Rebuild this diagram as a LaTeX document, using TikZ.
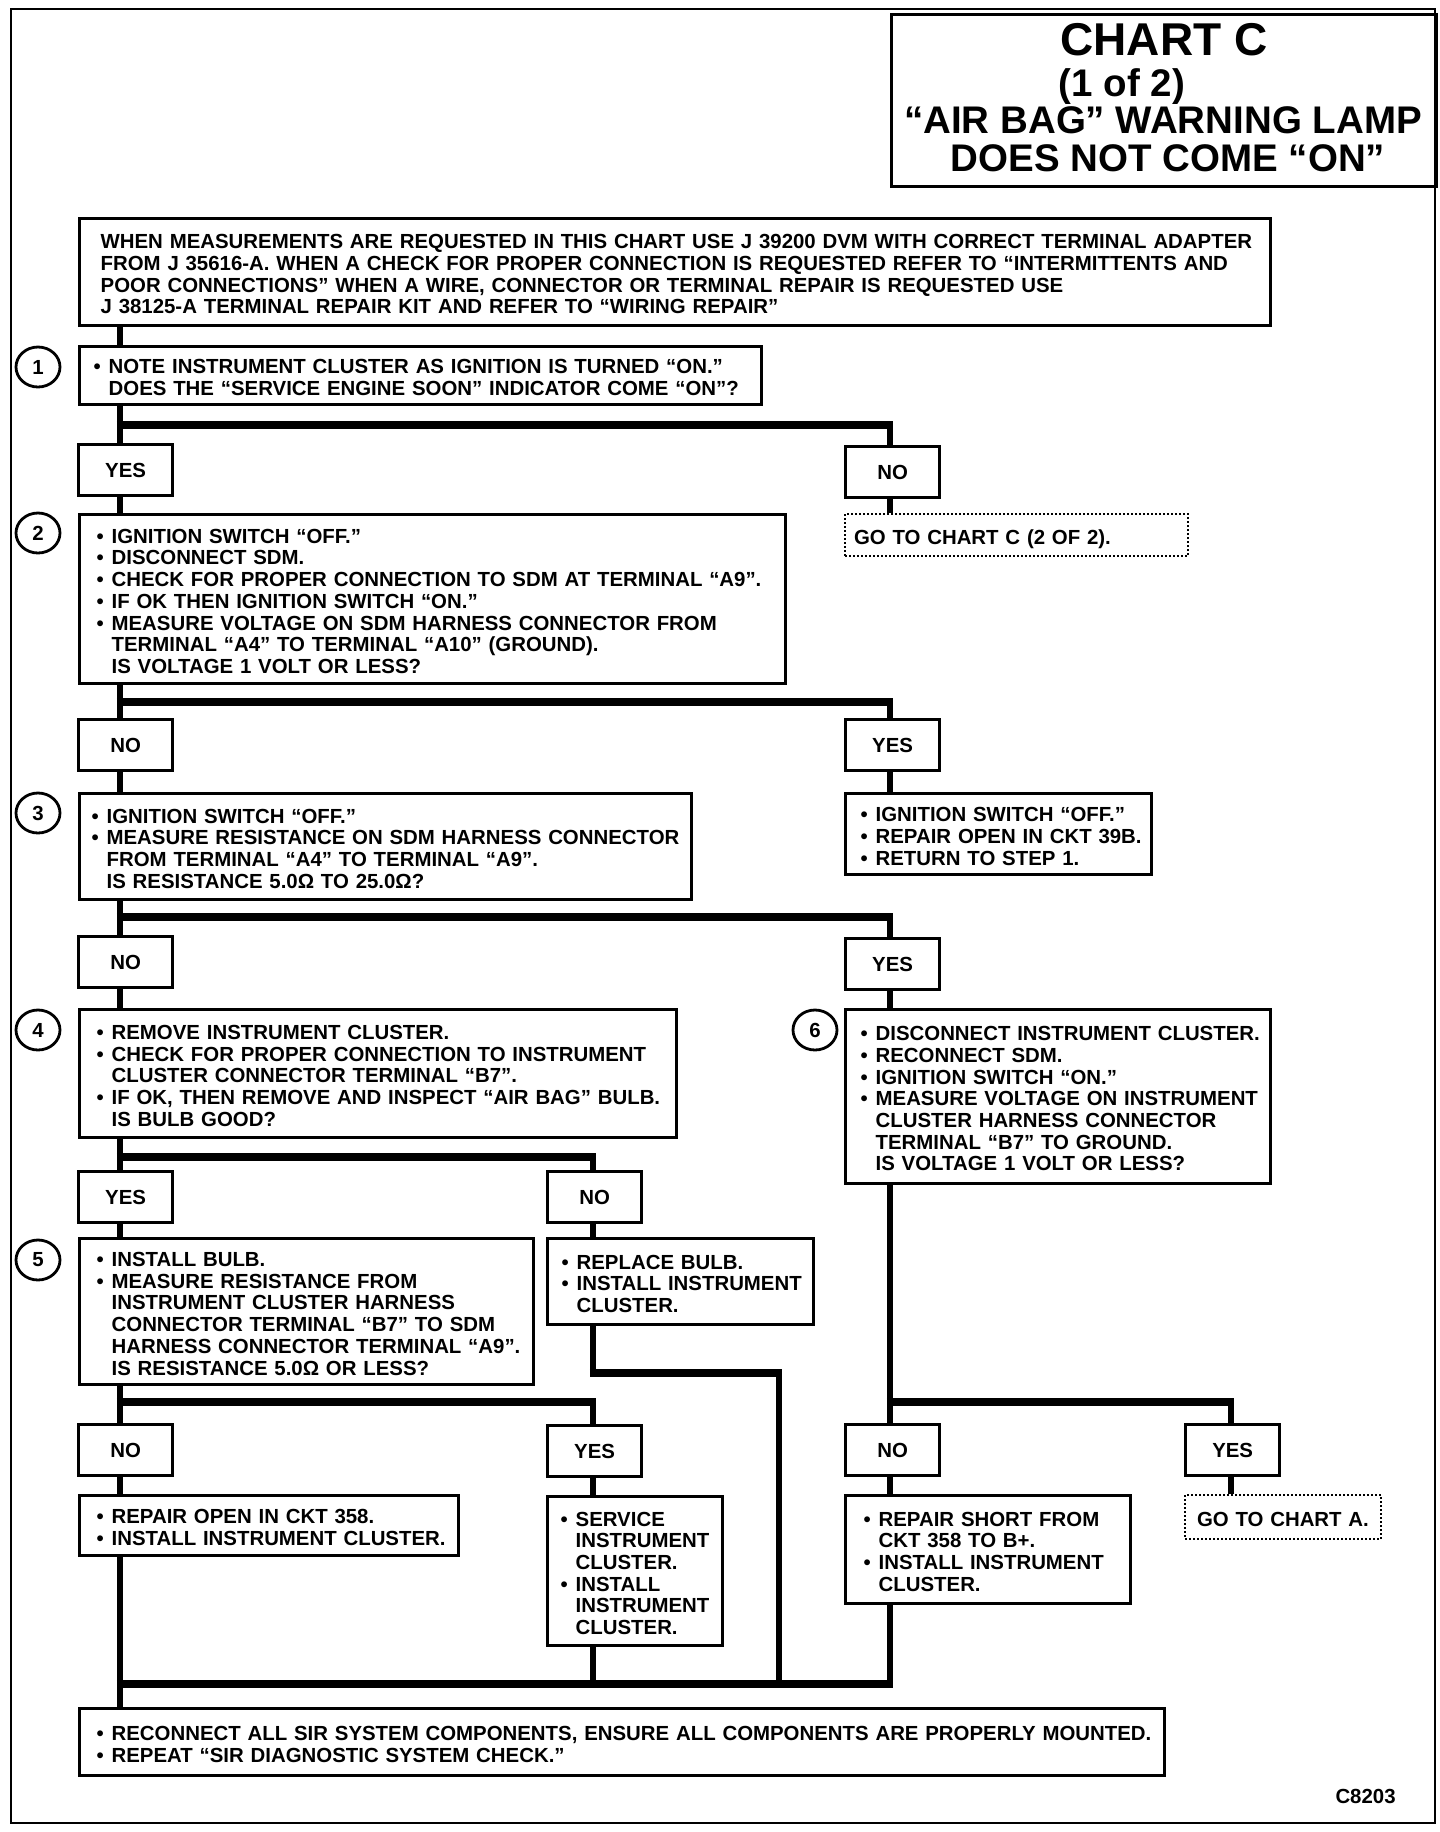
\documentclass[tikz,border=0pt]{standalone}
\usepackage{fontspec}
\setmainfont{Liberation Sans}
\usetikzlibrary{shapes.geometric}
\newlength\bw \setlength\bw{7.5pt}
\newcommand\bi{\makebox[\bw][l]{•}}
\newcommand\ci{\hspace*{\bw}}
\newcommand\bodyfont{\fontsize{10.2}{10.85}\selectfont\bfseries}
\newcommand\blk[1]{\raisebox{-2.4pt}[\height][\depth]{\begin{tabular}{@{}l@{}}#1\end{tabular}}}
\begin{document}
\begin{tikzpicture}[x=0.5pt,y=-0.5pt,
  box/.style={draw, line width=1.65pt, rectangle, anchor=north west, inner ysep=0pt, align=left, font=\bodyfont},
  ans/.style={draw, line width=1.65pt, rectangle, anchor=north west, minimum width=47pt, minimum height=25.5pt, inner sep=0pt, font=\bodyfont},
  goto/.style={draw, densely dotted, line width=1pt, rectangle, anchor=north west, inner ysep=0pt, align=left, font=\bodyfont},
  num/.style={draw, ellipse, line width=1.4pt, minimum width=22pt, minimum height=20pt, inner sep=0pt, font=\bodyfont},
  vline/.style={line width=3.2pt},
  branch/.style={line width=3.8pt, shorten <=-1.6pt, shorten >=-1.6pt},
  title/.style={font=\fontsize{19.25}{22}\selectfont\bfseries, anchor=base, inner sep=0pt}
]
\useasboundingbox (0,0) rectangle (1440,1832);
\draw[line width=1.4pt] (11,9) rectangle (1435,1823);

% title
\node[draw, line width=1.65pt, anchor=north west, minimum width=272.5pt, minimum height=86pt, inner sep=0pt] (tbox) at (890,13) {};
\node[title, font=\fontsize{23}{26}\selectfont\bfseries] (t1) at (1164,55) {CHART C};
\node[title] (t2) at (1122,96) {(1 of 2)};
\node[title] (t3) at (1163,133) {“AIR BAG” WARNING LAMP};
\node[title] (t4) at (1168,171) {DOES NOT COME “ON”};

% columns and branch levels
\coordinate (cL) at (120,0);
\coordinate (cM) at (593,0);
\coordinate (cMR) at (779,0);
\coordinate (cR) at (890,0);
\coordinate (cRR) at (1231,0);
\coordinate (b1) at (0,425);
\coordinate (b2) at (0,702);
\coordinate (b3) at (0,917);
\coordinate (b4) at (0,1157);
\coordinate (b5) at (0,1402);
\coordinate (hR) at (0,1373);
\coordinate (b7) at (0,1684);

% boxes
\node[box, minimum width=595.5pt, minimum height=53.5pt, inner xsep=10.5pt, text width=574.5pt] (header) at (78,217)
{\blk{WHEN MEASUREMENTS ARE REQUESTED IN THIS CHART USE J 39200 DVM WITH CORRECT TERMINAL ADAPTER\\
FROM J 35616-A. WHEN A CHECK FOR PROPER CONNECTION IS REQUESTED REFER TO “INTERMITTENTS AND\\
POOR CONNECTIONS” WHEN A WIRE, CONNECTOR OR TERMINAL REPAIR IS REQUESTED USE\\
J 38125-A TERMINAL REPAIR KIT AND REFER TO “WIRING REPAIR”}};

\node[box, minimum width=341pt, minimum height=29pt, inner xsep=7pt, text width=327pt] (step1) at (78,345)
{\blk{\bi NOTE INSTRUMENT CLUSTER AS IGNITION IS TURNED “ON.”\\
\ci DOES THE “SERVICE ENGINE SOON” INDICATOR COME “ON”?}};

\node[ans] (yes1) at (77,443) {YES};
\node[ans] (no1) at (844,445) {NO};

\node[box, minimum width=353pt, minimum height=84.5pt, inner xsep=8.5pt, text width=336pt] (step2) at (78,513)
{\blk{\bi IGNITION SWITCH “OFF.”\\
\bi DISCONNECT SDM.\\
\bi CHECK FOR PROPER CONNECTION TO SDM AT TERMINAL “A9”.\\
\bi IF OK THEN IGNITION SWITCH “ON.”\\
\bi MEASURE VOLTAGE ON SDM HARNESS CONNECTOR FROM\\
\ci TERMINAL “A4” TO TERMINAL “A10” (GROUND).\\
\ci IS VOLTAGE 1 VOLT OR LESS?}};

\node[goto, minimum width=171.5pt, minimum height=21pt, inner xsep=4.5pt, text width=162.5pt] (goC2) at (844,513)
{\blk{GO TO CHART C (2 OF 2).}};

\node[ans] (no2) at (77,718) {NO};
\node[ans] (yes2) at (844,718) {YES};

\node[box, minimum width=306pt, minimum height=53pt, inner xsep=6pt, text width=294pt] (step3) at (78,792)
{\blk{\bi IGNITION SWITCH “OFF.”\\
\bi MEASURE RESISTANCE ON SDM HARNESS CONNECTOR\\
\ci FROM TERMINAL “A4” TO TERMINAL “A9”.\\
\ci IS RESISTANCE 5.0Ω TO 25.0Ω?}};

\node[box, minimum width=153pt, minimum height=40.5pt, inner xsep=7.5pt, text width=138pt] (rep39) at (844,792)
{\blk{\bi IGNITION SWITCH “OFF.”\\
\bi REPAIR OPEN IN CKT 39B.\\
\bi RETURN TO STEP 1.}};

\node[ans] (no3) at (77,935) {NO};
\node[ans] (yes3) at (844,937) {YES};

\node[box, minimum width=298.5pt, minimum height=64pt, inner xsep=8.5pt, text width=281.5pt] (step4) at (78,1008)
{\blk{\bi REMOVE INSTRUMENT CLUSTER.\\
\bi CHECK FOR PROPER CONNECTION TO INSTRUMENT\\
\ci CLUSTER CONNECTOR TERMINAL “B7”.\\
\bi IF OK, THEN REMOVE AND INSPECT “AIR BAG” BULB.\\
\ci IS BULB GOOD?}};

\node[box, minimum width=212.5pt, minimum height=87pt, inner xsep=7.5pt, text width=197.5pt] (step6) at (844,1008)
{\blk{\bi DISCONNECT INSTRUMENT CLUSTER.\\
\bi RECONNECT SDM.\\
\bi IGNITION SWITCH “ON.”\\
\bi MEASURE VOLTAGE ON INSTRUMENT\\
\ci CLUSTER HARNESS CONNECTOR\\
\ci TERMINAL “B7” TO GROUND.\\
\ci IS VOLTAGE 1 VOLT OR LESS?}};

\node[ans] (yes4) at (77,1170) {YES};
\node[ans] (no4) at (546,1170) {NO};

\node[box, minimum width=227pt, minimum height=73pt, inner xsep=8.5pt, text width=210pt] (step5) at (78,1237)
{\blk{\bi INSTALL BULB.\\
\bi MEASURE RESISTANCE FROM\\
\ci INSTRUMENT CLUSTER HARNESS\\
\ci CONNECTOR TERMINAL “B7” TO SDM\\
\ci HARNESS CONNECTOR TERMINAL “A9”.\\
\ci IS RESISTANCE 5.0Ω OR LESS?}};

\node[box, minimum width=133pt, minimum height=43pt, inner xsep=7pt, text width=119pt] (replace) at (546,1237)
{\blk{\bi REPLACE BULB.\\
\bi INSTALL INSTRUMENT\\
\ci CLUSTER.}};

\node[ans] (no5) at (77,1423) {NO};
\node[ans] (yes5) at (546,1424) {YES};
\node[ans] (no6) at (844,1423) {NO};
\node[ans] (yes6) at (1184,1423) {YES};

\node[box, minimum width=189.5pt, minimum height=30pt, inner xsep=8.5pt, text width=172.5pt] (open358) at (78,1494)
{\blk{\bi REPAIR OPEN IN CKT 358.\\
\bi INSTALL INSTRUMENT CLUSTER.}};

\node[box, minimum width=87.5pt, minimum height=74.5pt, inner xsep=6.5pt, text width=74.5pt] (service) at (546,1495)
{\blk{\bi SERVICE\\
\ci INSTRUMENT\\
\ci CLUSTER.\\
\bi INSTALL\\
\ci INSTRUMENT\\
\ci CLUSTER.}};

\node[box, minimum width=142.5pt, minimum height=54pt, inner xsep=9pt, text width=124.5pt] (short358) at (844,1494)
{\blk{\bi REPAIR SHORT FROM\\
\ci CKT 358 TO B+.\\
\bi INSTALL INSTRUMENT\\
\ci CLUSTER.}};

\node[goto, minimum width=98pt, minimum height=22pt, inner xsep=6pt, text width=86pt] (goA) at (1184,1494)
{\blk{GO TO CHART A.}};

\node[box, minimum width=542.5pt, minimum height=33.5pt, inner xsep=8.5pt, text width=525.5pt] (final) at (78,1707)
{\blk{\bi RECONNECT ALL SIR SYSTEM COMPONENTS, ENSURE ALL COMPONENTS ARE PROPERLY MOUNTED.\\
\bi REPEAT “SIR DIAGNOSTIC SYSTEM CHECK.”}};

\node[font=\bodyfont, anchor=base east, inner sep=0pt] (code) at (1396,1803) {C8203};

% step numbers
\node[num] (n1) at (38,367) {1};
\node[num] (n2) at (38,533) {2};
\node[num] (n3) at (38,813) {3};
\node[num] (n4) at (38,1030) {4};
\node[num] (n5) at (38,1260) {5};
\node[num] (n6) at (815,1030) {6};

% connectors
\draw[vline] (header.south -| cL) -- (step1.north -| cL);
\draw[vline] (step1.south -| cL) -- (yes1.north -| cL);
\draw[branch] (b1 -| cL) -- (b1 -| cR);
\draw[vline] (b1 -| cR) -- (no1.north -| cR);
\draw[vline] (yes1.south -| cL) -- (step2.north -| cL);
\draw[vline] (no1.south -| cR) -- (goC2.north -| cR);

\draw[vline] (step2.south -| cL) -- (no2.north -| cL);
\draw[branch] (b2 -| cL) -- (b2 -| cR);
\draw[vline] (b2 -| cR) -- (yes2.north -| cR);
\draw[vline] (no2.south -| cL) -- (step3.north -| cL);
\draw[vline] (yes2.south -| cR) -- (rep39.north -| cR);

\draw[vline] (step3.south -| cL) -- (no3.north -| cL);
\draw[branch] (b3 -| cL) -- (b3 -| cR);
\draw[vline] (b3 -| cR) -- (yes3.north -| cR);
\draw[vline] (no3.south -| cL) -- (step4.north -| cL);
\draw[vline] (yes3.south -| cR) -- (step6.north -| cR);

\draw[vline] (step4.south -| cL) -- (yes4.north -| cL);
\draw[branch] (b4 -| cL) -- (b4 -| cM);
\draw[vline] (b4 -| cM) -- (no4.north -| cM);
\draw[vline] (yes4.south -| cL) -- (step5.north -| cL);
\draw[vline] (no4.south -| cM) -- (replace.north -| cM);

\draw[vline] (step5.south -| cL) -- (no5.north -| cL);
\draw[branch] (b5 -| cL) -- (b5 -| cM);
\draw[vline] (b5 -| cM) -- (yes5.north -| cM);

\draw[vline] (replace.south -| cM) -- (hR -| cM);
\draw[branch] (hR -| cM) -- (hR -| cMR);
\draw[vline] (hR -| cMR) -- (b7 -| cMR);

\draw[vline] (step6.south -| cR) -- (no6.north -| cR);
\draw[branch] (b5 -| cR) -- (b5 -| cRR);
\draw[vline] (b5 -| cRR) -- (yes6.north -| cRR);

\draw[vline] (no5.south -| cL) -- (open358.north -| cL);
\draw[vline] (yes5.south -| cM) -- (service.north -| cM);
\draw[vline] (no6.south -| cR) -- (short358.north -| cR);
\draw[vline] (yes6.south -| cRR) -- (goA.north -| cRR);

\draw[vline] (open358.south -| cL) -- (final.north -| cL);
\draw[vline] (service.south -| cM) -- (b7 -| cM);
\draw[vline] (short358.south -| cR) -- (b7 -| cR);
\draw[branch] (b7 -| cL) -- (b7 -| cR);
\end{tikzpicture}
\end{document}
